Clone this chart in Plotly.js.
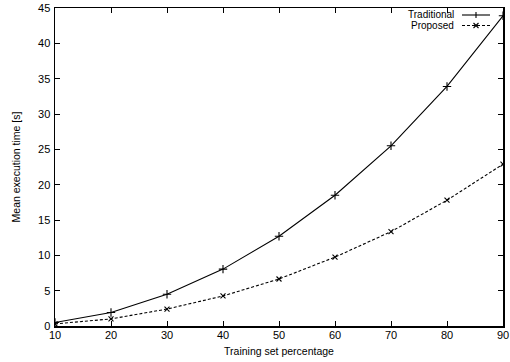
<!DOCTYPE html>
<html>
<head>
<meta charset="utf-8">
<script src="https://cdn.plot.ly/plotly-3.0.1.min.js"></script>
<style>
html,body{margin:0;padding:0;background:#fff;}
#chart{width:510px;height:362px;}
</style>
</head>
<body>
<div id="chart"></div>
<script>
var trainingPct = [10, 20, 30, 40, 50, 60, 70, 80, 90];
var traditional = [0.5, 1.9, 4.5, 8.05, 12.7, 18.5, 25.5, 33.9, 43.9];
var proposed = [0.3, 1.0, 2.4, 4.25, 6.65, 9.75, 13.35, 17.8, 22.9];
var seriesNames = ['Traditional', 'Proposed'];
var xTicks = [10, 20, 30, 40, 50, 60, 70, 80, 90];
var yTicks = [0, 5, 10, 15, 20, 25, 30, 35, 40, 45];

var font = 'Liberation Sans, Arial, Helvetica, sans-serif';

var traces = [
  {
    x: trainingPct, y: traditional, name: seriesNames[0], type: 'scatter', mode: 'lines+markers',
    line: {color: '#000', width: 1.1},
    marker: {symbol: 'cross-thin-open', size: 6, color: '#000', line: {color: '#000', width: 1.1}},
    showlegend: false
  },
  {
    x: trainingPct, y: proposed, name: seriesNames[1], type: 'scatter', mode: 'lines+markers',
    line: {color: '#000', width: 1.1, dash: '3px,2px'},
    marker: {symbol: 'x-thin-open', size: 5, color: '#000', line: {color: '#000', width: 1.1}},
    showlegend: false
  }
];

// legend (gnuplot style: text left, sample right) in paper coordinates
var shapes = [];
var annotations = [];
function px2paperX(px){ return (px - 55) / (503 - 55); }
function px2paperY(py){ return (326 - py) / (326 - 8); }
var legendRows = [{y: 15, dash: 'solid', sym: 'plus'}, {y: 25.5, dash: 'dash', sym: 'x'}];
legendRows.forEach(function(r, i){
  annotations.push({
    xref: 'paper', yref: 'paper', x: px2paperX(455), y: px2paperY(r.y),
    xanchor: 'right', yanchor: 'middle', showarrow: false,
    text: seriesNames[i], font: {family: font, size: 10, color: '#000'},
    borderpad: 0
  });
  shapes.push({
    type: 'line', xref: 'paper', yref: 'paper',
    x0: px2paperX(462), x1: px2paperX(490), y0: px2paperY(r.y), y1: px2paperY(r.y),
    line: {color: '#000', width: 1.1, dash: r.dash === 'dash' ? '3px,2px' : 'solid'}
  });
  var cx = 476, cy = r.y;
  if (r.sym === 'plus') {
    shapes.push({type: 'line', xref: 'paper', yref: 'paper',
      x0: px2paperX(cx), x1: px2paperX(cx), y0: px2paperY(cy - 3), y1: px2paperY(cy + 3),
      line: {color: '#000', width: 1.1}});
  } else {
    shapes.push({type: 'line', xref: 'paper', yref: 'paper',
      x0: px2paperX(cx - 2.5), x1: px2paperX(cx + 2.5), y0: px2paperY(cy - 2.5), y1: px2paperY(cy + 2.5),
      line: {color: '#000', width: 1.1}});
    shapes.push({type: 'line', xref: 'paper', yref: 'paper',
      x0: px2paperX(cx - 2.5), x1: px2paperX(cx + 2.5), y0: px2paperY(cy + 2.5), y1: px2paperY(cy - 2.5),
      line: {color: '#000', width: 1.1}});
  }
});

var layout = {
  width: 510, height: 362,
  margin: {l: 55, r: 7, t: 8, b: 36},
  paper_bgcolor: '#fff', plot_bgcolor: '#fff',
  showlegend: false,
  font: {family: font, size: 11, color: '#000'},
  xaxis: {
    range: [10, 90], tickvals: xTicks, ticktext: xTicks.map(String),
    ticks: 'inside', ticklen: 5, tickwidth: 1, tickcolor: '#000',
    showline: true, linecolor: '#000', linewidth: 1.5, mirror: 'ticks',
    showgrid: false, zeroline: false, ticklabelstandoff: -2,
    tickfont: {family: font, size: 11, color: '#000'},
    title: {text: 'Training set percentage', font: {family: font, size: 10.5, color: '#000'}, standoff: 8}
  },
  yaxis: {
    range: [0, 45], tickvals: yTicks, ticktext: yTicks.map(String),
    ticks: 'inside', ticklen: 5, tickwidth: 1, tickcolor: '#000',
    showline: true, linecolor: '#000', linewidth: 1.5, mirror: 'ticks',
    showgrid: false, zeroline: false, ticklabelstandoff: 1,
    tickfont: {family: font, size: 11, color: '#000'},
    title: {text: 'Mean execution time [s]', font: {family: font, size: 10.5, color: '#000'}, standoff: 15}
  },
  shapes: shapes,
  annotations: annotations
};

Plotly.newPlot('chart', traces, layout, {displayModeBar: false, staticPlot: true});
</script>
</body>
</html>
